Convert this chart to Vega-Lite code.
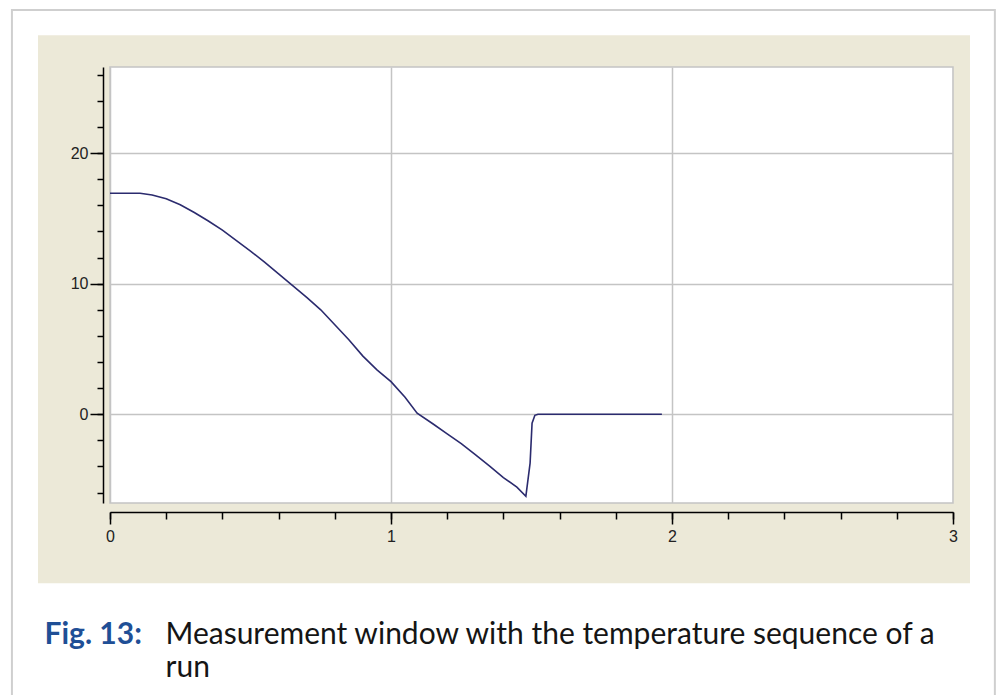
{
  "$schema": "https://vega.github.io/schema/vega-lite/v6.json",
  "width": 843,
  "height": 436,
  "autosize": {"type": "none"},
  "padding": {"left": 110, "top": 67, "right": 47, "bottom": 192},
  "background": "white",
  "config": {"view": {"stroke": null, "fill": "white"}},
  "resolve": {"axis": {"x": "independent", "y": "independent"}},
  "layer": [
    {
      "data": {"values": [{}]},
      "mark": {"type": "rect", "fillOpacity": 0, "stroke": "#cfcfcf", "strokeWidth": 2},
      "encoding": {
        "x": {"datum": -0.349, "type": "quantitative", "scale": {"domain": [0, 3], "nice": false, "zero": false}, "axis": null},
        "x2": {"datum": 3.149},
        "y": {"datum": 30.96, "type": "quantitative", "scale": {"domain": [-6.8, 26.6], "nice": false, "zero": false}, "axis": null},
        "y2": {"datum": -40}
      }
    },
    {
      "data": {"values": [{}]},
      "mark": {"type": "rect", "fill": "#ECE9D8"},
      "encoding": {
        "x": {"datum": -0.2562, "type": "quantitative", "scale": {"domain": [0, 3], "nice": false, "zero": false},
          "axis": {"orient": "bottom", "values": [0,0.2,0.4,0.6,0.8,1,1.2,1.4,1.6,1.8,2,2.2,2.4,2.6,2.8,3], "offset": 9, "tickSize": 7, "tickColor": "#000", "tickWidth": 1.5, "labels": false, "domain": false, "grid": false, "zindex": 1,
            "title": "Fig. 13:", "titleX": -66, "titleY": 131, "titleAlign": "left", "titleAnchor": null, "titleBaseline": "alphabetic", "titleFont": "Lato", "titleFontSize": 30, "titleFontWeight": "bold", "titleColor": "#1f4f96"}},
        "x2": {"datum": 3.0605},
        "y": {"datum": 29.04, "type": "quantitative", "scale": {"domain": [-6.8, 26.6], "nice": false, "zero": false},
          "axis": {"orient": "left", "values": [-6,-4,-2,0,2,4,6,8,10,12,14,16,18,20,22,24,26], "offset": 7, "tickSize": 6, "tickColor": "#000", "tickWidth": 1.5, "labels": false, "domain": false, "grid": false, "title": null, "zindex": 1}},
        "y2": {"datum": 26.6}
      }
    },
    {
      "data": {"values": [{}]},
      "mark": {"type": "rect", "fill": "#ECE9D8"},
      "encoding": {
        "x": {"datum": -0.2562, "type": "quantitative", "scale": {"domain": [0, 3], "nice": false, "zero": false}, "axis": null},
        "x2": {"datum": 3.0605},
        "y": {"datum": -6.8, "type": "quantitative", "scale": {"domain": [-6.8, 26.6], "nice": false, "zero": false}, "axis": null},
        "y2": {"datum": -12.95}
      }
    },
    {
      "data": {"values": [{}]},
      "mark": {"type": "rect", "fill": "#ECE9D8"},
      "encoding": {
        "x": {"datum": -0.2562, "type": "quantitative", "scale": {"domain": [0, 3], "nice": false, "zero": false}, "axis": null},
        "x2": {"datum": 0},
        "y": {"datum": 26.6, "type": "quantitative", "scale": {"domain": [-6.8, 26.6], "nice": false, "zero": false}, "axis": null},
        "y2": {"datum": -6.8}
      }
    },
    {
      "data": {"values": [{}]},
      "mark": {"type": "rect", "fill": "#ECE9D8"},
      "encoding": {
        "x": {"datum": 3, "type": "quantitative", "scale": {"domain": [0, 3], "nice": false, "zero": false}, "axis": null},
        "x2": {"datum": 3.0605},
        "y": {"datum": 26.6, "type": "quantitative", "scale": {"domain": [-6.8, 26.6], "nice": false, "zero": false}, "axis": null},
        "y2": {"datum": -6.8}
      }
    },
    {
      "data": {"values": [{}]},
      "mark": {"type": "rect", "fillOpacity": 0, "stroke": "#c4c4c4", "strokeWidth": 1.5},
      "encoding": {
        "x": {"datum": 0, "type": "quantitative", "scale": {"domain": [0, 3], "nice": false, "zero": false},
          "axis": {"orient": "bottom", "values": [0, 1, 2, 3], "grid": true, "gridColor": "#c4c4c4", "gridWidth": 1.5, "domain": false, "ticks": false, "labels": false, "title": null, "zindex": 0}},
        "x2": {"datum": 3},
        "y": {"datum": 26.6, "type": "quantitative", "scale": {"domain": [-6.8, 26.6], "nice": false, "zero": false},
          "axis": {"orient": "left", "values": [0, 10, 20], "grid": true, "gridColor": "#c4c4c4", "gridWidth": 1.5, "domain": false, "ticks": false, "labels": false, "title": null, "zindex": 0}},
        "y2": {"datum": -6.8}
      }
    },
    {
      "data": {"values": [
        {"t": 0, "T": 16.93}, {"t": 0.107, "T": 16.93}, {"t": 0.15, "T": 16.8}, {"t": 0.2, "T": 16.5},
        {"t": 0.25, "T": 16.05}, {"t": 0.3, "T": 15.45}, {"t": 0.35, "T": 14.8}, {"t": 0.4, "T": 14.1},
        {"t": 0.45, "T": 13.3}, {"t": 0.5, "T": 12.5}, {"t": 0.55, "T": 11.65}, {"t": 0.6, "T": 10.75},
        {"t": 0.65, "T": 9.85}, {"t": 0.7, "T": 8.95}, {"t": 0.75, "T": 8.0}, {"t": 0.8, "T": 6.85},
        {"t": 0.85, "T": 5.7}, {"t": 0.9, "T": 4.45}, {"t": 0.95, "T": 3.4}, {"t": 1.0, "T": 2.5},
        {"t": 1.05, "T": 1.3}, {"t": 1.093, "T": 0.08}, {"t": 1.15, "T": -0.75}, {"t": 1.2, "T": -1.5},
        {"t": 1.25, "T": -2.25}, {"t": 1.3, "T": -3.1}, {"t": 1.35, "T": -3.95}, {"t": 1.4, "T": -4.85},
        {"t": 1.448, "T": -5.59}, {"t": 1.48, "T": -6.28}, {"t": 1.495, "T": -3.75}, {"t": 1.502, "T": -0.69},
        {"t": 1.512, "T": -0.08}, {"t": 1.523, "T": 0}, {"t": 1.964, "T": 0}
      ]},
      "mark": {"type": "line", "color": "#2b2b6e", "strokeWidth": 1.6},
      "encoding": {
        "x": {"field": "t", "type": "quantitative", "scale": {"domain": [0, 3], "nice": false, "zero": false},
          "axis": {"orient": "bottom", "values": [0, 1, 2, 3], "format": "d", "offset": 9, "tickSize": 12, "tickColor": "#000", "tickWidth": 1.5,
            "domainColor": "#000", "domainWidth": 1.5, "labelPadding": 4, "labelFont": "Liberation Sans", "labelFontSize": 16, "labelColor": "#222", "labelFlush": false, "labelOverlap": false,
            "grid": false, "zindex": 1,
            "title": ["Measurement window with the temperature sequence of a", "run"], "titleX": 55, "titleY": 131, "titleAlign": "left", "titleAnchor": null, "titleBaseline": "alphabetic", "titleFont": "Lato", "titleFontSize": 30, "titleFontWeight": "normal", "titleColor": "#151515", "titleLineHeight": 33}},
        "y": {"field": "T", "type": "quantitative", "scale": {"domain": [-6.8, 26.6], "nice": false, "zero": false},
          "axis": {"orient": "left", "values": [0, 10, 20], "format": "d", "offset": 7, "tickSize": 13, "tickColor": "#000", "tickWidth": 1.5,
            "domainColor": "#000", "domainWidth": 1.5, "labelPadding": 2, "labelFont": "Liberation Sans", "labelFontSize": 16, "labelColor": "#222", "labelOverlap": false,
            "grid": false, "title": null, "zindex": 1}}
      }
    }
  ]
}
